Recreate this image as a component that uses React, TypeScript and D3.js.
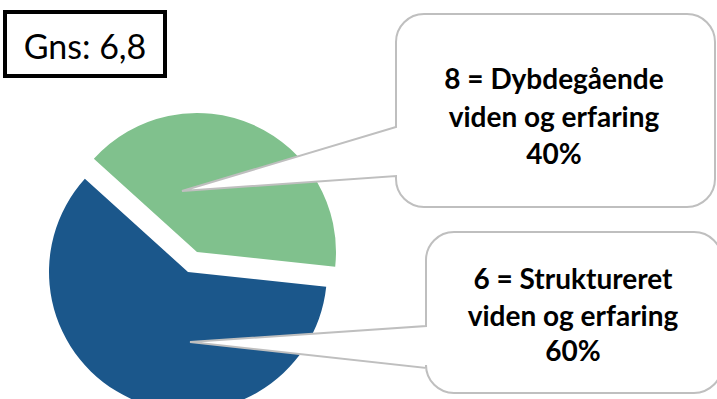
import React from "react";
import * as d3 from "d3";

const categories = ["8 = Dybdegående viden og erfaring", "6 = Struktureret viden og erfaring"];
const labelLines = [
  ["8 = Dybdegående", "viden og erfaring"],
  ["6 = Struktureret", "viden og erfaring"],
];
const values = [40, 60];
const percentLabels = ["40%", "60%"];
const averageLabel = "Gns: 6,8";
const colors = ["#80c18d", "#1b578b"];

const W = 717;
const H = 399;
const CX = 188;
const CY = 272;
const R = 139;
const START = (-47.9 * Math.PI) / 180;
const EXPLODE = [22, 0];

// callout layout: box rect, notch on left edge, tip position
const callouts = [
  { x: 396, y: 14, w: 319, h: 193, r: 28, n1: 127, n2: 176, tip: [182, 191], tx: 554, ty: [78, 116, 153] },
  { x: 426, y: 232, w: 296, h: 161, r: 28, n1: 326, n2: 368, tip: [190, 342], tx: 573, ty: [278, 315, 350] },
];

function calloutPath(c: any) {
  const { x, y, w, h, r, n1, n2, tip } = c;
  const p = d3.path();
  p.moveTo(x + r, y);
  p.lineTo(x + w - r, y);
  p.arcTo(x + w, y, x + w, y + r, r);
  p.lineTo(x + w, y + h - r);
  p.arcTo(x + w, y + h, x + w - r, y + h, r);
  p.lineTo(x + r, y + h);
  p.arcTo(x, y + h, x, y + h - r, r);
  p.lineTo(x, n2);
  p.lineTo(tip[0], tip[1]);
  p.lineTo(x, n1);
  p.lineTo(x, y + r);
  p.arcTo(x, y, x + r, y, r);
  p.closePath();
  return p.toString();
}

export default function App() {
  const pie = d3
    .pie<number>()
    .sort(null)
    .startAngle(START)
    .endAngle(START + 2 * Math.PI);
  const arcs = pie(values);
  const arc = d3.arc<d3.PieArcDatum<number>>().innerRadius(0).outerRadius(R);

  return (
    <svg
      width={W}
      height={H}
      style={{ position: "absolute", left: 0, top: 0, background: "#fff" }}
      fontFamily="Lato, 'Open Sans', sans-serif"
    >
      <g>
        {arcs.map((a, i) => {
          const mid = (a.startAngle + a.endAngle) / 2;
          const dx = EXPLODE[i] * Math.sin(mid);
          const dy = -EXPLODE[i] * Math.cos(mid);
          return (
            <path
              key={categories[i]}
              d={arc(a) as string}
              fill={colors[i]}
              transform={`translate(${CX + dx},${CY + dy})`}
            />
          );
        })}
      </g>
      {callouts.map((c, i) => (
        <g key={i}>
          <path d={calloutPath(c)} fill="#fff" stroke="#bfbfbf" strokeWidth={2} />
          {[...labelLines[i], percentLabels[i]].map((t, j) => (
            <text
              key={j}
              x={c.tx}
              y={c.ty[j]}
              textAnchor="middle"
              dominantBaseline="central"
              fontWeight="bold"
              fontSize={28}
              fill="#000"
            >
              {t}
            </text>
          ))}
        </g>
      ))}
      <rect x={5} y={12} width={160} height={64} fill="#fff" stroke="#000" strokeWidth={4} />
      <text x={85} y={45} textAnchor="middle" dominantBaseline="central" fontSize={34} fill="#000">
        {averageLabel}
      </text>
    </svg>
  );
}
